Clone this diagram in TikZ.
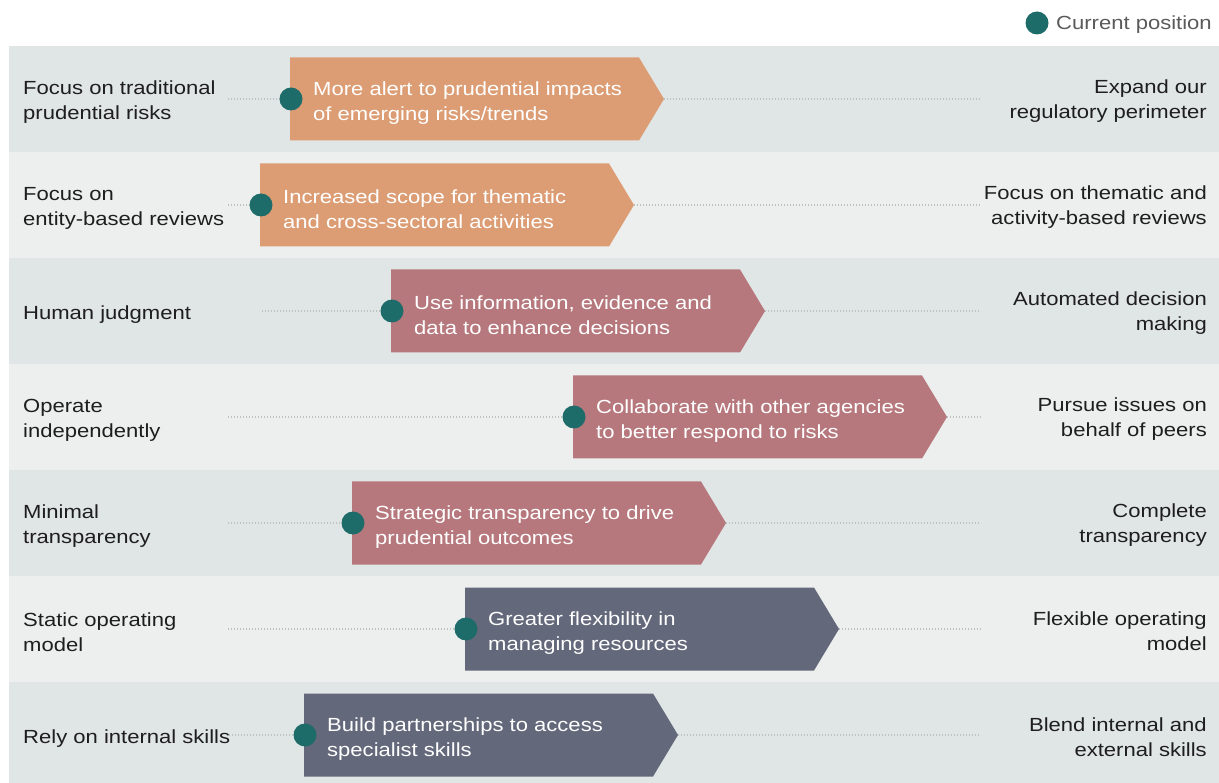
\documentclass[tikz,border=0pt]{standalone}
\usepackage{fontspec}
\setmainfont[FakeStretch=1.16]{Liberation Sans}
\definecolor{rowA}{RGB}{224,229,229}
\definecolor{rowB}{RGB}{237,239,238}
\definecolor{arrOrange}{RGB}{220,157,116}
\definecolor{arrMauve}{RGB}{182,120,125}
\definecolor{arrSlate}{RGB}{99,104,122}
\definecolor{dotTeal}{RGB}{29,108,106}
\definecolor{guideGray}{RGB}{188,194,194}
\definecolor{txtDark}{RGB}{30,30,30}
\definecolor{legGray}{RGB}{90,90,90}
\tikzset{
  lbl/.style={font=\fontsize{19}{25}\selectfont, text=txtDark, inner sep=0pt, align=left, anchor=west},
  rlbl/.style={font=\fontsize{19}{25}\selectfont, text=txtDark, inner sep=0pt, align=right, anchor=east},
  atxt/.style={font=\fontsize{19}{25}\selectfont, text=white, inner sep=0pt, align=left, anchor=west},
  cur/.style={circle, fill=dotTeal, minimum size=23pt, inner sep=0pt},
  guide/.style={draw=guideGray, line width=1.3pt, dash pattern=on 1.3pt off 1.7pt},
}
% #1 id, #2 centre y, #3 arrow left x, #4 colour, #5 guide start x, #6 left, #7 arrow, #8 right
\newcommand\myrow[8]{%
  \coordinate (s#1) at (#5,#2);
  \coordinate (c#1) at (#3+1,#2);
  \coordinate (tip#1) at (#3+374,#2);
  \coordinate (e#1) at (981,#2);
  \draw[guide] (s#1) -- (c#1);
  \draw[guide] (tip#1) -- (e#1);
  \fill[#4] (#3,#2-41.5) -- (#3+349,#2-41.5) -- (tip#1) -- (#3+349,#2+41.5) -- (#3,#2+41.5) -- cycle;
  \node[cur] (d#1) at (c#1) {};
  \node[lbl] (l#1) at (23,#2+3.5) {#6};
  \node[rlbl] (r#1) at (1207,#2+2) {#8};
  \node[atxt] (t#1) at (#3+23,#2+4) {#7};
}
\begin{document}
\begin{tikzpicture}[x=1pt,y=-1pt]
\useasboundingbox (0,0) rectangle (1219,783);
% background bands
\fill[rowA] (9,46) rectangle (1219,152);
\fill[rowB] (9,152) rectangle (1219,258);
\fill[rowA] (9,258) rectangle (1219,364);
\fill[rowB] (9,364) rectangle (1219,470);
\fill[rowA] (9,470) rectangle (1219,576);
\fill[rowB] (9,576) rectangle (1219,682);
\fill[rowA] (9,682) rectangle (1219,783);
% legend
\node[cur] (legdot) at (1037,23) {};
\node[font=\fontsize{19}{25}\selectfont, text=legGray, inner sep=0pt, anchor=base west] (leg) at (1056,30) {Current position};
% rows
\myrow{1}{99}{290}{arrOrange}{228}{Focus on traditional\\prudential risks}{More alert to prudential impacts\\of emerging risks/trends}{Expand our\\regulatory perimeter}
\myrow{2}{205}{260}{arrOrange}{228}{Focus on\\entity-based reviews}{Increased scope for thematic\\and cross-sectoral activities}{Focus on thematic and\\activity-based reviews}
\myrow{3}{311}{391}{arrMauve}{262}{Human judgment}{Use information, evidence and\\data to enhance decisions}{Automated decision\\making}
\myrow{4}{417}{573}{arrMauve}{228}{Operate\\independently}{Collaborate with other agencies\\to better respond to risks}{Pursue issues on\\behalf of peers}
\myrow{5}{523}{352}{arrMauve}{228}{Minimal\\transparency}{Strategic transparency to drive\\prudential outcomes}{Complete\\transparency}
\myrow{6}{629}{465}{arrSlate}{228}{Static operating\\model}{Greater flexibility in\\managing resources}{Flexible operating\\model}
\myrow{7}{735}{304}{arrSlate}{229}{Rely on internal skills}{Build partnerships to access\\specialist skills}{Blend internal and\\external skills}
\end{tikzpicture}
\end{document}
